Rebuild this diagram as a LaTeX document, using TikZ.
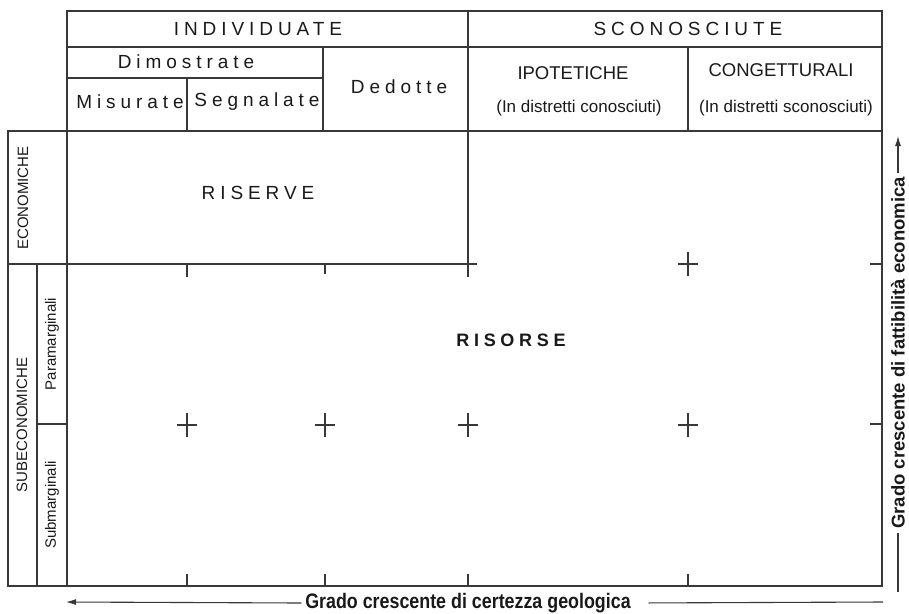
\documentclass[tikz,border=0pt]{standalone}
\usepackage{fontspec}
\setmainfont{Liberation Sans}
\newfontfamily\spaced[LetterSpace=26]{Liberation Sans}
\newfontfamily\narrowfont[FakeStretch=0.85]{Liberation Sans}
\usetikzlibrary{arrows.meta}

\begin{document}
\begin{tikzpicture}[x=1pt,y=-1pt,line width=1.1pt,color=black!78,
             spc/.style={text=black!90,font=\fontsize{19}{22}\selectfont\spaced},
             caps/.style={text=black!90,font=\fontsize{18.5}{21}\selectfont},
             paren/.style={text=black!90,font=\fontsize{17}{20}\selectfont},
             side/.style={text=black!90,rotate=90,font=\fontsize{15}{18}\selectfont},
             axis/.style={text=black!90,font=\fontsize{21}{24}\selectfont\narrowfont\bfseries},
             arr/.style={-{Latex[length=10pt,width=6pt]}}]
             \useasboundingbox (0,0) rectangle (909,613);
             \draw (67,11) rectangle (882,131);
             \draw (67,47) -- (882,47);
             \draw (67,78) -- (323,78);
             \draw (187,78) -- (187,131);
             \draw (323,47) -- (323,131);
             \draw (468,11) -- (468,277);
             \draw (688,47) -- (688,131);
             \draw (8,131) rectangle (882,586);
             \draw (67,131) -- (67,586);
             \draw (37,264) -- (37,586);
             \draw (8,264) -- (477,264);
             \draw (37,424) -- (67,424);
             \draw (187,264) -- (187,277);
             \draw (325,264) -- (325,274);
             \foreach \x in {187,325,468,688} \draw (\x,574) -- (\x,586);
             \foreach \y in {264,424} \draw (870,\y) -- (882,\y);
             \foreach \x/\y in {688/264,187/425,325/425,468/425,688/425}
               \draw (\x-10,\y) -- (\x+10,\y) (\x,\y-12) -- (\x,\y+12);
             \node[spc] (indiv) at (258,29) {INDIVIDUATE};
             \node[spc] (scono) at (688,29) {SCONOSCIUTE};
             \node[spc] (dimo) at (186,62) {Dimostrate};
             \node[spc] (misu) at (130,102) {Misurate};
             \node[spc] (segn) at (257,102) {Segnalate};
             \node[spc] (dedo) at (399,87) {Dedotte};
             \node[caps] (ipot) at (573,73) {IPOTETICHE};
             \node[paren] (ipotd) at (579,108) {(In distretti conosciuti)};
             \node[caps] (cong) at (781,70) {CONGETTURALI};
             \node[paren] (congd) at (786,108) {(In distretti sconosciuti)};
             \node[side] (econ) at (23,198) {ECONOMICHE};
             \node[side] (subec) at (22,425) {SUBECONOMICHE};
             \node[side] (para) at (52,344) {Paramarginali};
             \node[side] (subm) at (52,505) {Submarginali};
             \node[spc] (riserve) at (258,193) {RISERVE};
             \node[spc,font=\fontsize{18}{21}\selectfont\spaced\bfseries] (risorse) at (511,340) {RISORSE};
             \node[axis] (geo) at (468,603) {Grado crescente di certezza geologica};
             \node[axis,rotate=90,font=\fontsize{18.5}{22}\selectfont\bfseries] (eco) at (898,353) {Grado crescente di fattibilità economica};
             \coordinate (geoL) at (66,602);
             \coordinate (geoR) at (883,602);
             \coordinate (ecoT) at (898,136);
             \coordinate (ecoB) at (898,592);
             \draw[arr] (geo.west) -- (geoL);
             \draw[shorten <=14pt] (geo.east) -- (geoR);
             \draw[arr] (eco.east) -- (ecoT);
             \draw (eco.west) -- (ecoB);
            \end{tikzpicture}
\end{document}
